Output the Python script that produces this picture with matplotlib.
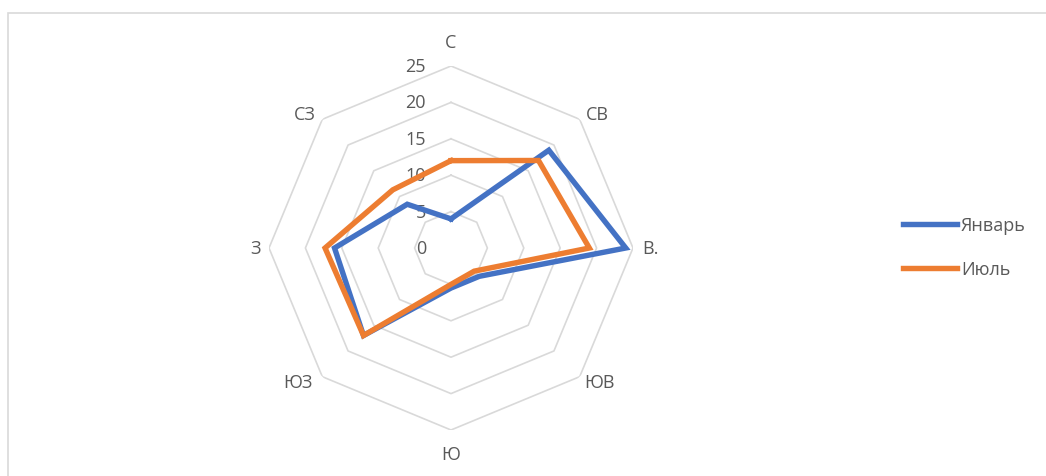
import matplotlib.pyplot as plt
import numpy as np
from matplotlib.patches import Rectangle

# wind directions and frequencies
directions = ["С", "СВ", "В.", "ЮВ", "Ю", "ЮЗ", "З", "СЗ"]
january = [4, 19, 24, 5.5, 5.5, 17, 16, 8.5]
july = [12, 17, 19, 4.5, 5, 17, 17.3, 11.3]
rings = [5, 10, 15, 20, 25]
ring_labels = [0, 5, 10, 15, 20, 25]

# label offsets (pixels) from the outer vertex, with horizontal alignment
label_offsets = [(0, 24, "center"), (18, 5, "center"), (9, 0, "left"), (20, -5, "center"),
                 (0, -24, "center"), (-24, -5, "center"), (-8, 0, "right"), (-17, 5, "center")]

text_color = "#595959"
grid_color = "#D9D9D9"
plt.rcParams["font.family"] = ["Open Sans", "DejaVu Sans"]

fig = plt.figure(figsize=(10.46, 4.77), dpi=100)
fig.patches.append(Rectangle((8 / 1046, -0.1), 1.1, (477 - 14) / 477 + 0.1,
                             transform=fig.transFigure, fill=False,
                             edgecolor=grid_color, linewidth=1.2))

ax = fig.add_axes([269 / 1046, 46 / 477, 364 / 1046, 364 / 477], projection="polar")
ax.set_theta_zero_location("N")
ax.set_theta_direction(-1)
ax.set_ylim(0, 25)
ax.grid(False)
ax.spines["polar"].set_visible(False)
ax.set_xticks([])
ax.set_yticks([])

theta = np.linspace(0, 2 * np.pi, len(directions), endpoint=False)
theta_closed = np.append(theta, theta[0])

for r in rings:
    ax.plot(theta_closed, [r] * len(theta_closed), color=grid_color, lw=1.2, zorder=1)

for r in ring_labels:
    ax.annotate(str(r), xy=(0, r), xytext=(-25, 0), textcoords="offset pixels",
                ha="right", va="center", fontsize=13, color=text_color)

for t, name, (dx, dy, ha) in zip(theta, directions, label_offsets):
    ax.annotate(name, xy=(t, 25), xytext=(dx, dy), textcoords="offset pixels",
                ha=ha, va="center", fontsize=13, color=text_color, annotation_clip=False)

ax.plot(theta_closed, january + january[:1], color="#4472C4", lw=3.9,
        solid_joinstyle="miter", label="Январь", zorder=3)
ax.plot(theta_closed, july + july[:1], color="#ED7D31", lw=3.9,
        solid_joinstyle="miter", label="Июль", zorder=3)

fig.legend(loc="center left", bbox_to_anchor=(887 / 1046, 229 / 477), frameon=False,
           fontsize=13, labelcolor=text_color, handlelength=3.0, handletextpad=0.2,
           labelspacing=1.45)

fig.savefig("out.png", dpi=100)
